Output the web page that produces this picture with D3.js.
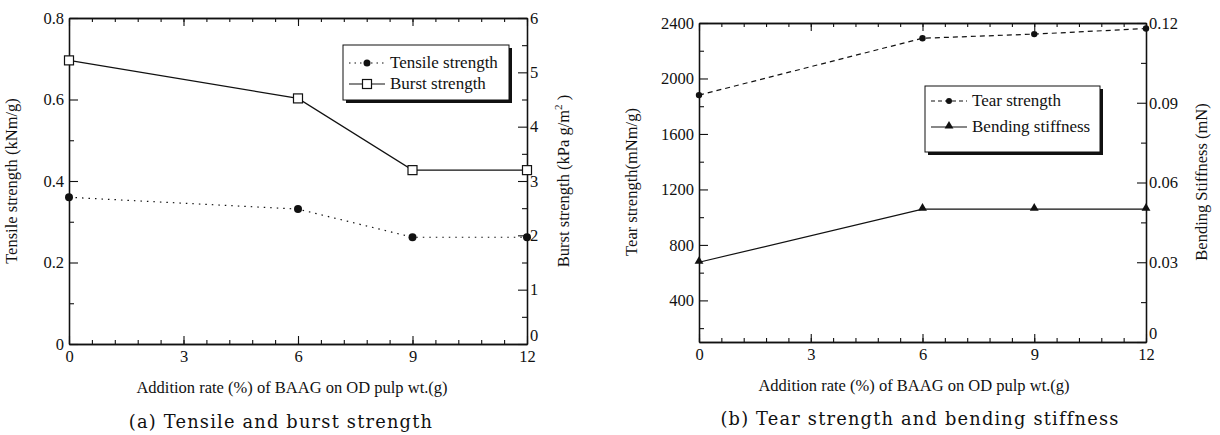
<!DOCTYPE html>
<html>
<head>
<meta charset="utf-8">
<script src="https://cdn.jsdelivr.net/npm/d3@7"></script>
<style>
  body { margin: 0; background: #fff; }
</style>
</head>
<body>
<svg id="chart" width="1220" height="435"></svg>
<script>
// shared x values
const additionRates = [0, 6, 9, 12];
const xTicks = [0, 3, 6, 9, 12];

// (a) tensile & burst
const tensile = [0.36, 0.331, 0.262, 0.262];
const burst = [5.22, 4.52, 3.2, 3.2];
const tensileTicks = [0, 0.2, 0.4, 0.6, 0.8];
const burstTicks = [0, 1, 2, 3, 4, 5, 6];

// (b) tear & bending
const tear = [1880, 2290, 2320, 2360];
const bending = [0.03, 0.05, 0.05, 0.05];
const tearTicks = [400, 800, 1200, 1600, 2000, 2400];
const bendingTicks = [0, 0.03, 0.06, 0.09, 0.12];

const SERIF = "Liberation Serif";
const svg = d3.select("#chart");

function frame(box, x, yL, yR, o) {
    const g = svg.append("g");
    const minorX = d3.range(0, 12.001, 0.6);
    // bottom
    g.append("g").attr("transform", `translate(0,${box.bottom})`)
        .call(d3.axisBottom(x).tickValues(minorX).tickSizeInner(-4).tickSizeOuter(0).tickFormat(""));
    g.append("g").attr("transform", `translate(0,${box.bottom})`)
        .call(d3.axisBottom(x).tickValues(xTicks).tickSizeInner(-8).tickSizeOuter(0).tickPadding(6).tickFormat(d3.format("d")));
    // top
    g.append("g").attr("transform", `translate(0,${box.top})`)
        .call(d3.axisTop(x).tickValues(minorX).tickSizeInner(-4).tickSizeOuter(0).tickFormat(""));
    g.append("g").attr("transform", `translate(0,${box.top})`)
        .call(d3.axisTop(x).tickValues(xTicks).tickSizeInner(-8).tickSizeOuter(0).tickFormat(""));
    // left
    g.append("g").attr("transform", `translate(${box.left},0)`)
        .call(d3.axisLeft(yL).tickValues(o.leftMinor).tickSizeInner(-5).tickSizeOuter(0).tickFormat(""));
    g.append("g").attr("transform", `translate(${box.left},0)`)
        .call(d3.axisLeft(yL).tickValues(o.leftTicks).tickSizeInner(-9).tickSizeOuter(0).tickPadding(5).tickFormat(o.leftFmt));
    // right
    g.append("g").attr("transform", `translate(${box.right},0)`)
        .call(d3.axisRight(yR).tickValues(o.rightMinor).tickSizeInner(-5).tickSizeOuter(0).tickFormat(""));
    const r = g.append("g").attr("transform", `translate(${box.right},0)`)
        .call(d3.axisRight(yR).tickValues(o.rightTicks).tickSizeInner(-9).tickSizeOuter(0).tickPadding(3).tickFormat(o.rightFmt));
    // the zero on the right sits just above the corner
    r.selectAll(".tick text").filter(d => d === 0).attr("dy", "-0.2em");
    g.selectAll(".domain").attr("stroke", "#111").attr("stroke-width", 1.3);
    g.selectAll(".tick line").attr("stroke", "#111").attr("stroke-width", 1.1);
    g.selectAll(".tick text").attr("font-size", 16.5).style("font-family", SERIF).attr("fill", "#111");
    return g;
}

function legend(x0, y0, w, h, items) {
    const g = svg.append("g").attr("transform", `translate(${x0},${y0})`);
    g.append("rect").attr("x", 3).attr("y", 3).attr("width", w).attr("height", h).attr("fill", "#111");
    g.append("rect").attr("width", w).attr("height", h).attr("fill", "#fff").attr("stroke", "#111").attr("stroke-width", 1);
    items.forEach(it => {
        const yy = it.y;
        g.append("line").attr("x1", 6).attr("x2", 42).attr("y1", yy).attr("y2", yy)
            .attr("stroke", "#111").attr("stroke-width", 1.1).attr("stroke-dasharray", it.dash);
        it.marker(g, 24, yy);
        g.append("text").attr("x", 47).attr("y", yy + 5).attr("font-size", 17)
            .style("font-family", SERIF).attr("fill", "#111").text(it.label);
    });
}

const dot = r => (g, cx, cy) => g.append("circle").attr("cx", cx).attr("cy", cy).attr("r", r).attr("fill", "#111");
const square = (g, cx, cy) => g.append("rect").attr("x", cx - 4.5).attr("y", cy - 4.5).attr("width", 9).attr("height", 9)
    .attr("fill", "#fff").attr("stroke", "#111").attr("stroke-width", 1.2);
const tri = (g, cx, cy) => g.append("path").attr("d", d3.symbol(d3.symbolTriangle, 34)()).attr("transform", `translate(${cx},${cy - 1})`).attr("fill", "#111");

function series(xs, ys, x, y, dash, marker) {
    const line = d3.line().x((d, i) => x(xs[i])).y(d => y(d));
    svg.append("path").datum(ys).attr("d", line).attr("fill", "none")
        .attr("stroke", "#111").attr("stroke-width", 1.2).attr("stroke-dasharray", dash);
    ys.forEach((v, i) => marker(svg, x(xs[i]), y(v)));
}

function label(x, y, rot, size) {
    return svg.append("text")
        .attr("transform", `translate(${x},${y})` + (rot ? " rotate(-90)" : ""))
        .attr("text-anchor", "middle").attr("font-size", size)
        .style("font-family", SERIF).attr("fill", "#111");
}

function caption(x, y, txt) {
    svg.append("text").attr("x", x).attr("y", y).attr("text-anchor", "middle")
        .attr("font-size", 17.8).style("font-family", "DejaVu Serif").style("letter-spacing", "1.2px")
        .attr("fill", "#111").text(txt);
}

// ---------- chart (a)
const boxA = { left: 69, right: 527, top: 18, bottom: 344 };
const xA = d3.scaleLinear().domain([0, 12]).range([boxA.left, boxA.right]);
const yTensile = d3.scaleLinear().domain([0, 0.8]).range([boxA.bottom, boxA.top]);
const yBurst = d3.scaleLinear().domain([0, 6]).range([boxA.bottom, boxA.top]);

frame(boxA, xA, yTensile, yBurst, {
    leftTicks: tensileTicks, leftMinor: d3.range(0.1, 0.8, 0.2), leftFmt: d => d === 0 ? "0" : d3.format(".1f")(d),
    rightTicks: burstTicks, rightMinor: d3.range(0.5, 6, 1), rightFmt: d3.format("d")
});
series(additionRates, tensile, xA, yTensile, "1.5,5", dot(4));
series(additionRates, burst, xA, yBurst, null, square);

legend(343, 45, 166, 55, [
    { y: 18, label: "Tensile strength", dash: "1.5,4", marker: dot(3.5) },
    { y: 39, label: "Burst strength", dash: null, marker: square }
]);

label(17, 181, true, 16.5).text("Tensile strength (kNm/g)");
label(569, 181, true, 16.5)
    .html("Burst strength (kPa g/m<tspan dy='-7' font-size='11'>2</tspan><tspan dy='7'> )</tspan>");
label(292, 393, false, 16.5).text("Addition rate (%) of BAAG on OD pulp wt.(g)");
caption(281, 428, "(a) Tensile and burst strength");

// ---------- chart (b)
const boxB = { left: 699, right: 1146, top: 23, bottom: 342 };
const xB = d3.scaleLinear().domain([0, 12]).range([boxB.left, boxB.right]);
const yTear = d3.scaleLinear().domain([100, 2400]).range([boxB.bottom, boxB.top]);
const yBend = d3.scaleLinear().domain([0, 0.12]).range([boxB.bottom, boxB.top]);

frame(boxB, xB, yTear, yBend, {
    leftTicks: tearTicks, leftMinor: d3.range(200, 2400, 400), leftFmt: d3.format("d"),
    rightTicks: bendingTicks, rightMinor: d3.range(0.015, 0.12, 0.03), rightFmt: d => d === 0 ? "0" : d3.format(".2f")(d)
});
series(additionRates, tear, xB, yTear, "5,4", dot(3.2));
series(additionRates, bending, xB, yBend, null, tri);

legend(925, 86, 175, 66, [
    { y: 15, label: "Tear strength", dash: "4,3", marker: dot(3) },
    { y: 41, label: "Bending stiffness", dash: null, marker: tri }
]);

label(637, 182, true, 16.5).text("Tear strength(mNm/g)");
label(1207, 182, true, 16.5).text("Bending Stiffness (mN)");
label(914, 391, false, 16.5).text("Addition rate (%) of BAAG on OD pulp wt.(g)");
caption(920, 425, "(b) Tear strength and bending stiffness");
</script>
</body>
</html>
